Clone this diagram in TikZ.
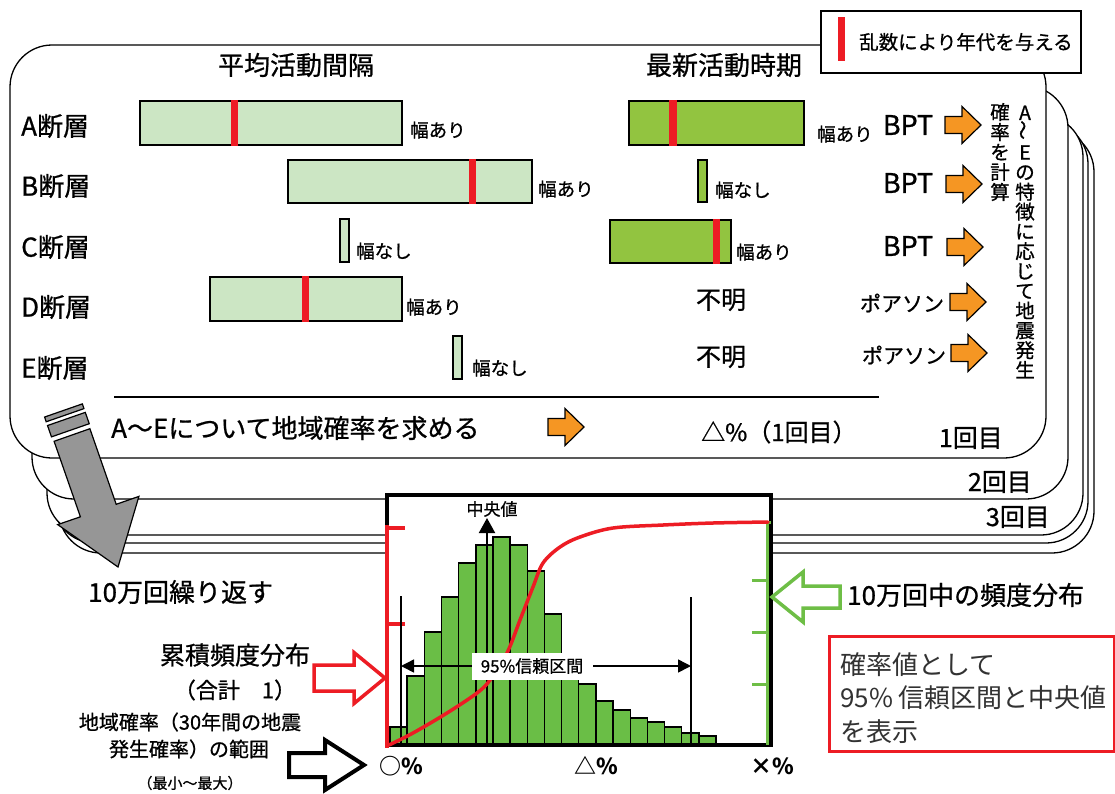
\documentclass[tikz,border=0pt]{standalone}
\usepackage{fontspec}
\usepackage{graphicx}
\newfontfamily\jp[FakeBold=0.8]{Noto Sans CJK JP}
\newfontfamily\jpbold{Noto Sans CJK JP}
\usetikzlibrary{arrows.meta}
\definecolor{lgreen}{RGB}{204,230,196}
\definecolor{dgreen}{RGB}{146,196,64}
\definecolor{hgreen}{RGB}{106,190,70}
\definecolor{myred}{RGB}{237,28,36}
\definecolor{myorange}{RGB}{245,150,35}
\definecolor{agreen}{RGB}{110,190,70}
\definecolor{garrowc}{RGB}{150,150,150}
\definecolor{boxtext}{RGB}{50,50,50}
\newcommand\oarrow[2]{\draw[oarr] (#1,#2) ++(0,-8.5) -- ++(17,0) -- ++(0,-10) -- ++(19,18.5) -- ++(-19,18.5) -- ++(0,-10) -- ++(-17,0) -- cycle;}
\tikzset{
  tx/.style={inner sep=0pt, font=\jp\fontsize{#1}{#1}\selectfont},
  tl/.style={inner sep=0pt, font=\jpbold\fontsize{#1}{#1}\selectfont},
  bx/.style={inner sep=0pt, font=\jpbold\bfseries\fontsize{#1}{#1}\selectfont},
  stack/.style={draw=black, line width=1.3pt, fill=white, rounded corners=42pt},
  lbar/.style={draw=black, line width=1.5pt, fill=lgreen},
  dbar/.style={draw=black, line width=1.5pt, fill=dgreen},
  hbar/.style={draw=black, line width=1.4pt, fill=hgreen},
  rmark/.style={fill=myred},
  oarr/.style={draw=black, line width=1.2pt, fill=myorange},
  garr/.style={draw=black, line width=1.2pt, fill=garrowc},
}
\begin{document}
\begin{tikzpicture}[x=1pt,y=-1pt]
\useasboundingbox (0,0) rectangle (1115,793);
% stacked rounded boxes (back to front)
\draw[stack] (59,130) rectangle (1094,553);
\draw[stack] (53,122) rectangle (1088,543);
\draw[stack] (47,115) rectangle (1083,535);
\draw[stack] (32,86) rectangle (1068,499);
\draw[stack] (10,45) rectangle (1046,458);
% legend
\node[draw=black, line width=1.5pt, fill=white, minimum width=260pt, minimum height=62pt, anchor=north west, inner sep=0pt] (legend) at (820,10) {};
\fill[rmark] (838,17) rectangle (845,61);
\node[tx=19.5, anchor=west] (legtext) at (859,42) {乱数により年代を与える};
% headings
\node[tx=26] (h1) at (296,65) {平均活動間隔};
\node[tx=26] (h2) at (724,65) {最新活動時期};
% fault labels
\node[tx=26, anchor=west] (fA) at (21,126) {A断層};
\node[tx=26, anchor=west] (fB) at (21,186) {B断層};
\node[tx=26, anchor=west] (fC) at (21,247) {C断層};
\node[tx=26, anchor=west] (fD) at (21,307) {D断層};
\node[tx=26, anchor=west] (fE) at (21,368) {E断層};
% interval bars
\draw[lbar] (140,101) rectangle (402,145);
\fill[rmark] (230.5,100) rectangle (238,146);
\draw[lbar] (288,160) rectangle (532,203);
\fill[rmark] (469,159) rectangle (476,204);
\draw[lbar] (340,219) rectangle (349,262);
\draw[lbar] (210,277) rectangle (402,321);
\fill[rmark] (302,276) rectangle (309,322);
\draw[lbar] (453,336) rectangle (462,379);
\node[tx=18.5, anchor=west] (wA) at (410,130) {幅あり};
\node[tx=18.5, anchor=west] (wB) at (538,189) {幅あり};
\node[tx=18.5, anchor=west] (wC) at (356,251) {幅なし};
\node[tx=18.5, anchor=west] (wD) at (406,307) {幅あり};
\node[tx=18.5, anchor=west] (wE) at (472,368) {幅なし};
% latest activity bars
\draw[dbar] (629,101) rectangle (804,145);
\fill[rmark] (669,100) rectangle (677,146);
\draw[dbar] (698,160) rectangle (707,202);
\draw[dbar] (610,220) rectangle (731,263);
\fill[rmark] (713,219) rectangle (720,264);
\node[tx=18.5, anchor=west] (lA) at (817,134) {幅あり};
\node[tx=18.5, anchor=west] (lB) at (715,190) {幅なし};
\node[tx=18.5, anchor=west] (lC) at (736,252) {幅あり};
\node[tx=25] (uD) at (721,300) {不明};
\node[tx=25] (uE) at (721,357) {不明};
% models
\node[tx=27] (mA) at (908,125) {BPT};
\node[tx=27] (mB) at (908,183) {BPT};
\node[tx=27] (mC) at (908,246) {BPT};
\node[tx=21] (mD) at (902,303) {ポアソン};
\node[tx=21] (mE) at (904,355) {ポアソン};
\oarrow{945}{125}
\oarrow{946}{184}
\oarrow{947}{247}
\oarrow{950}{302}
\oarrow{951}{353}
% vertical texts
\node[inner sep=0pt, align=center, font=\jp\fontsize{19.5}{20}\selectfont] (v1) at (1000,152) {確\\率\\を\\計\\算};
\node[inner sep=0pt, align=center, font=\jp\fontsize{19.5}{19.8}\selectfont] (v2) at (1025,242) {A\\\rotatebox{90}{～}\\E\\の\\特\\徴\\に\\応\\じ\\て\\地\\震\\発\\生};
% separator and total
\draw[line width=1.3pt] (114,397) -- (879,397);
\node[tx=26, anchor=west] (areaA) at (111,428) {A～Eについて地域確率を求める};
\oarrow{548}{427}
\node[tx=24, anchor=west] (res1) at (701,432) {△\%（1回目）};
\node[tx=25, anchor=east] (r1) at (1003,438) {1回目};
\node[tx=25, anchor=east] (r2) at (1032,482) {2回目};
\node[tx=25, anchor=east] (r3) at (1050,517) {3回目};
% histogram frame
\draw[line width=4pt, fill=white] (387,495) rectangle (771,745);
\foreach \t [count=\i from 0] in {727,676,632,597,563,545,537,545,571,614,672,684,701,710,718,722,727,733,736}
  \draw[hbar] ({390+17.16*\i},745) rectangle ({390+17.16*(\i+1)},\t);
\draw[line width=4pt] (387,745) -- (771,745);
\draw[myred, line width=3.5pt] (387,525) -- (387,748);
\draw[myred, line width=3.5pt] (387,528) -- (405,528);
\draw[myred, line width=3.5pt] (387,624) -- (405,624);
\draw[agreen, line width=3pt] (767,522) -- (767,745);
\draw[agreen, line width=3pt] (752,522) -- (771,522);
\draw[agreen, line width=3pt] (752,580) -- (767,580);
\draw[agreen, line width=3pt] (752,632) -- (767,632);
\draw[agreen, line width=3pt] (752,684) -- (767,684);
% median
\coordinate (medB) at (487,745);
\coordinate (medT) at (487,518);
\draw[line width=2pt, -{Triangle[length=15pt,width=16pt]}] (medB) -- (medT);
\node[tx=17] (medlbl) at (492,509) {中央値};
% confidence interval
\coordinate (ciLb) at (401,745);
\coordinate (ciLt) at (401,596);
\coordinate (ciRb) at (691,745);
\coordinate (ciRt) at (691,597);
\draw[line width=2.5pt] (ciLb) -- (ciLt);
\draw[line width=2.5pt] (ciRb) -- (ciRt);
\coordinate (ciL) at (401,666);
\coordinate (ciR) at (691,666);
\draw[line width=1.5pt, {Triangle[length=13pt,width=13pt]}-{Triangle[length=13pt,width=13pt]}] (ciL) -- (ciR);
% cumulative curve
\draw[myred, line width=3.5pt, line cap=round] plot[smooth, tension=0.55] coordinates {(389,745) (413,733) (447,713) (477,693) (490,680) (507,653) (520,620) (533,587) (543,563) (560,547) (580,537) (613,528) (663,525) (713,523) (768,522)};
\node[tx=17, fill=white, minimum width=121pt, minimum height=27pt] (cilbl) at (532,666) {95\%信頼区間};
% axis labels
\node[bx=22] (x0) at (401,766) {○\%};
\node[bx=22] (x1) at (596,766) {△\%};
\node[bx=22] (x2) at (772,766) {×\%};
% left texts
\node[tx=26, anchor=west] (rep) at (88,592) {10万回繰り返す};
\node[tx=25] (cum1) at (235,655) {累積頻度分布};
\node[tx=22] (cum2) at (235,690) {（合計　1）};
\node[tx=20] (rng1) at (190,722) {地域確率（30年間の地震};
\node[tx=20] (rng2) at (189,749) {発生確率）の範囲};
\node[tx=15] (rng3) at (190,783) {（最小～最大）};
% hollow arrows
\draw[myred, line width=3.5pt, fill=white] (314,665) -- (354,665) -- (354,652.5) -- (385,678) -- (354,703.5) -- (354,691) -- (314,691) -- cycle;
\draw[black, line width=4pt, fill=white] (289,753) -- (325,753) -- (325,740) -- (364,765) -- (325,790) -- (325,777) -- (289,777) -- cycle;
\draw[agreen, line width=3.5pt, fill=white] (840,586) -- (803,586) -- (803,572) -- (772,597) -- (803,622) -- (803,608) -- (840,608) -- cycle;
\node[tx=26, anchor=west] (freq) at (847,595) {10万回中の頻度分布};
% result box
\node[draw=myred, line width=2.5pt, fill=white, minimum width=285pt, minimum height=115pt, anchor=north west, inner sep=0pt] (resbox) at (828,635) {};
\node[tl=26, anchor=west, text=boxtext] (res1l) at (840,665) {確率値として};
\node[tl=26, anchor=west, text=boxtext] (res2l) at (840,698) {95\% 信頼区間と中央値};
\node[tl=26, anchor=west, text=boxtext] (res3l) at (840,732) {を表示};
% big gray arrow
\draw[garr] (46.21,421.76) -- (83.97,408.6) -- (82.33,403.88) -- (44.57,417.04) -- cycle;
\draw[garr] (51.47,436.86) -- (89.23,423.7) -- (85.29,412.37) -- (47.53,425.53) -- cycle;
\draw[garr] (54.1,441.3) -- (89.9,428.7) -- (116.2,504.3) -- (138.9,496.4) -- (118,567) -- (57.7,524.6) -- (80.4,516.8) -- cycle;
\end{tikzpicture}
\end{document}
